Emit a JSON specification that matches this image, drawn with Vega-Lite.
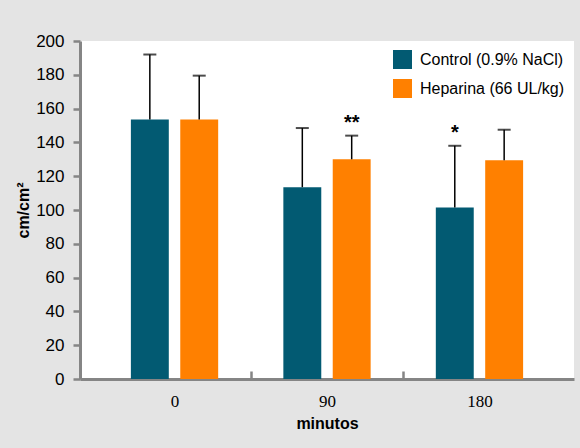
{
  "$schema": "https://vega.github.io/schema/vega-lite/v6.json",
  "width": 494,
  "height": 338,
  "autosize": {"type": "none"},
  "padding": {"left": 80, "top": 41, "right": 6, "bottom": 69},
  "background": "#e4e4e4",
  "config": {
    "view": {"fill": "white", "stroke": null},
    "font": "Liberation Sans",
    "axisY": {
      "titleFontSize": 16, "titleFontWeight": "bold", "titleColor": "black",
      "labelFontSize": 17, "labelColor": "black", "tickCount": 11,
      "labelOverlap": false, "grid": false, "domainColor": "#858585", "domainWidth": 3, "tickColor": "#858585", "tickWidth": 2.5,
      "tickSize": 7, "labelPadding": 9, "titlePadding": 4
    }
  },
  "data": {
    "values": [
      {"time": "0", "group": "Control (0.9% NaCl)", "value": 153.5, "upper": 192, "sig": ""},
      {"time": "0", "group": "Heparina (66 UL/kg)", "value": 153.5, "upper": 179.5, "sig": ""},
      {"time": "90", "group": "Control (0.9% NaCl)", "value": 113.5, "upper": 148.5, "sig": ""},
      {"time": "90", "group": "Heparina (66 UL/kg)", "value": 130, "upper": 144, "sig": "**"},
      {"time": "180", "group": "Control (0.9% NaCl)", "value": 101.5, "upper": 138, "sig": "*"},
      {"time": "180", "group": "Heparina (66 UL/kg)", "value": 129.5, "upper": 147.5, "sig": ""}
    ]
  },
  "encoding": {
    "x": {
      "field": "time", "type": "nominal", "sort": ["0", "90", "180"],
      "scale": {"paddingInner": 0, "paddingOuter": 0.12},
      "axis": {
        "title": "minutos", "titleFont": "Liberation Sans", "titleFontSize": 16, "titleFontWeight": "bold", "titleColor": "black",
        "labelFont": "Liberation Serif", "labelFontSize": 17, "labelAngle": 0, "labelColor": "black",
        "domainColor": "#858585", "domainWidth": 3, "tickColor": "#858585", "tickWidth": 2.5, "tickSize": -8,
        "tickOpacity": {"condition": {"test": "datum.index >= 1 || datum.index < 0", "value": 0}, "value": 1},
        "tickBand": "extent", "labelPadding": 22, "titlePadding": 6
      }
    },
    "xOffset": {
      "field": "group", "type": "nominal", "sort": ["Control (0.9% NaCl)", "Heparina (66 UL/kg)"],
      "scale": {"paddingInner": 0.232, "paddingOuter": 0.66}
    }
  },
  "layer": [
    {
      "mark": {"type": "bar"},
      "encoding": {
        "y": {
          "field": "value", "type": "quantitative",
          "scale": {"domain": [0, 200], "nice": false},
          "axis": {"title": "cm/cm²", "values": [0, 20, 40, 60, 80, 100, 120, 140, 160, 180, 200], "tickCount": 11, "labelOverlap": false}
        },
        "color": {
          "field": "group", "type": "nominal",
          "scale": {"domain": ["Control (0.9% NaCl)", "Heparina (66 UL/kg)"], "range": ["#025a72", "#ff8000"]},
          "legend": {
            "title": null, "orient": "top-right", "offset": 9, "symbolType": "square", "symbolSize": 361,
            "symbolStrokeWidth": 0, "symbolOpacity": 1, "labelFontSize": 16, "labelColor": "black", "labelOffset": 8,
            "rowPadding": 10, "labelLimit": 300
          }
        }
      }
    },
    {
      "mark": {"type": "rule", "color": "black", "strokeWidth": 1.5},
      "encoding": {"y": {"field": "value", "type": "quantitative", "axis": {"title": "cm/cm²", "values": [0, 20, 40, 60, 80, 100, 120, 140, 160, 180, 200], "tickCount": 11, "labelOverlap": false}}, "y2": {"field": "upper"}}
    },
    {
      "mark": {"type": "tick", "color": "black", "size": 13, "thickness": 2},
      "encoding": {"y": {"field": "upper", "type": "quantitative", "axis": {"title": "cm/cm²", "values": [0, 20, 40, 60, 80, 100, 120, 140, 160, 180, 200], "tickCount": 11, "labelOverlap": false}}}
    },
    {
      "transform": [{"filter": "datum.sig != ''"}],
      "mark": {"type": "text", "baseline": "bottom", "dy": -3, "fontSize": 20, "fontWeight": "bold", "color": "black"},
      "encoding": {"y": {"field": "upper", "type": "quantitative", "axis": {"title": "cm/cm²", "values": [0, 20, 40, 60, 80, 100, 120, 140, 160, 180, 200], "tickCount": 11, "labelOverlap": false}}, "text": {"field": "sig"}}
    }
  ]
}
